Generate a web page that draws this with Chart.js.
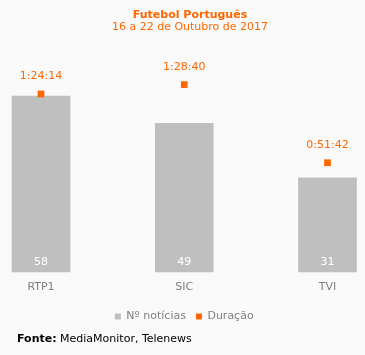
<!DOCTYPE html>
<html><head><meta charset="utf-8">
<script src="https://cdn.jsdelivr.net/npm/chart.js@4.4.0/dist/chart.umd.min.js"></script>
<style>html,body{margin:0;padding:0;background:#fafafa;overflow:hidden}#wrap{width:365px;height:355px;position:relative}</style>
</head><body><div id="wrap"><canvas id="c" width="365" height="355"></canvas></div>
<script>
const categories = ['RTP1', 'SIC', 'TVI'];
const noticias = [58, 49, 31];
const duracoes = ['1:24:14', '1:28:40', '0:51:42'];
const seriesNames = ['Nº notícias', 'Duração'];
const titleText = 'Futebol Português';
const subtitleText = '16 a 22 de Outubro de 2017';
const sourceLabel = 'Fonte:';
const sourceText = ' MediaMonitor, Telenews';

function toMinutes(s) { const p = s.split(':').map(Number); return p[0] * 60 + p[1] + p[2] / 60; }
const duracaoMin = duracoes.map(toMinutes);

const FONT = '"DejaVu Sans", Verdana, sans-serif';
const ORANGE = '#ff6600';
const GREY = '#bfbfbf';

const textPlugin = {
  id: 'textPlugin',
  afterDatasetsDraw(chart) {
    const ctx = chart.ctx;
    ctx.save();
    ctx.font = '11px ' + FONT;
    ctx.textAlign = 'center';
    ctx.textBaseline = 'alphabetic';
    const y0 = chart.scales.y.getPixelForValue(0);
    chart.getDatasetMeta(0).data.forEach((bar, i) => {
      ctx.fillStyle = '#ffffff';
      ctx.fillText(String(noticias[i]), bar.x, y0 - 7);
    });
    chart.getDatasetMeta(1).data.forEach((pt, i) => {
      ctx.fillStyle = ORANGE;
      ctx.fillText(duracoes[i], pt.x, pt.y - 14.5);
    });
    ctx.restore();
  },
  afterDraw(chart) {
    const ctx = chart.ctx;
    ctx.save();
    ctx.textAlign = 'center';
    ctx.textBaseline = 'alphabetic';
    ctx.fillStyle = ORANGE;
    ctx.font = 'bold 11px ' + FONT;
    ctx.fillText(titleText, 190, 17.5);
    ctx.font = '11px ' + FONT;
    ctx.fillText(subtitleText, 190, 29.5);
    ctx.textAlign = 'left';
    ctx.fillStyle = '#000000';
    ctx.font = 'bold 11px ' + FONT;
    ctx.fillText(sourceLabel, 17, 341.5);
    const w = ctx.measureText(sourceLabel).width;
    ctx.font = '11px ' + FONT;
    ctx.fillText(sourceText, 17 + w, 341.5);
    ctx.restore();
  }
};

new Chart(document.getElementById('c'), {
  data: {
    labels: categories,
    datasets: [
      {
        type: 'bar',
        label: seriesNames[0],
        data: noticias,
        backgroundColor: GREY,
        borderWidth: 0,
        barThickness: 58,
        yAxisID: 'y',
        clip: false,
        order: 2
      },
      {
        type: 'line',
        label: seriesNames[1],
        data: duracaoMin,
        showLine: false,
        pointStyle: 'rect',
        pointRadius: 4.75,
        pointHoverRadius: 4.75,
        pointBorderWidth: 0,
        borderWidth: 0,
        backgroundColor: ORANGE,
        borderColor: ORANGE,
        yAxisID: 'y2',
        clip: false,
        order: 1
      }
    ]
  },
  options: {
    responsive: false,
    animation: false,
    devicePixelRatio: 1,
    layout: { padding: { left: 41, right: 37.5, top: 59.6, bottom: 23 } },
    scales: {
      x: {
        offset: false,
        grid: { display: false, drawTicks: false },
        border: { display: false },
        ticks: { color: '#808080', font: { family: FONT, size: 11 }, padding: 9, maxRotation: 0 },
        afterFit(scale) { scale.height = 29; }
      },
      y: { display: false, min: 0, max: 70 },
      y2: { display: false, min: 0, max: 100.5 }
    },
    plugins: {
      legend: {
        position: 'bottom',
        labels: {
          boxWidth: 6,
          boxHeight: 6,
          padding: 10,
          color: '#808080',
          font: { family: FONT, size: 11 },
          sort: (a, b) => a.datasetIndex - b.datasetIndex
        }
      },
      tooltip: { enabled: false },
      title: { display: false }
    }
  },
  plugins: [textPlugin]
});
</script>
</body></html>
